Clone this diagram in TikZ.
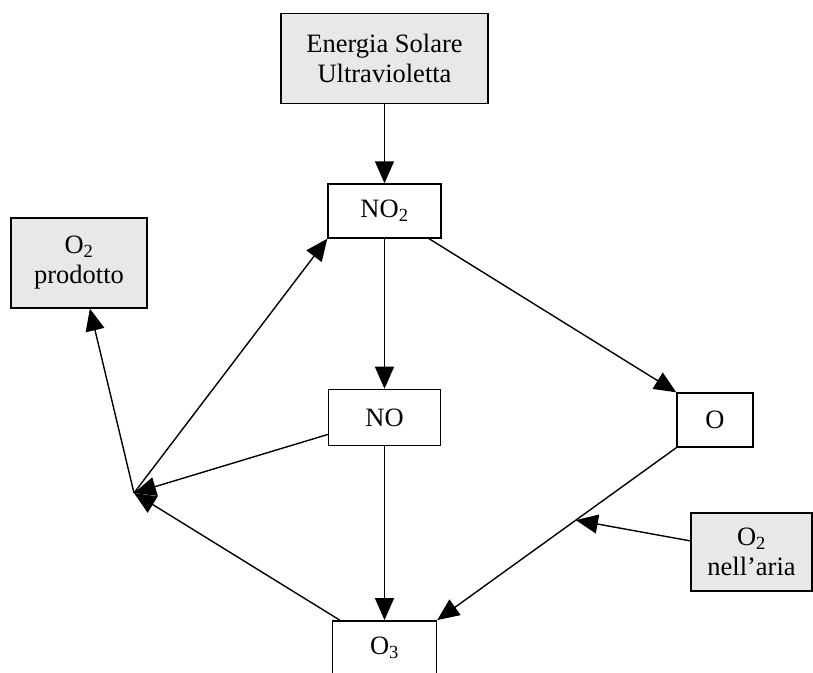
\documentclass[tikz,border=0pt]{standalone}
\usepackage{fontspec}
\setmainfont{Liberation Serif}
\usetikzlibrary{arrows.meta, positioning, calc}

\begin{document}
\begin{tikzpicture}[x=1pt, y=-1pt, >={Triangle[length=22pt,width=19pt]}, line width=1.4pt,
  box/.style={draw, inner sep=0pt, align=center, minimum height=54pt,
    font=\fontsize{26.5}{30}\selectfont},
  shaded/.style={box, fill=black!9}]

\useasboundingbox (0,0) rectangle (813,672);

% define the boxes
  \node[box, minimum width=113pt]    (no2) at (384.5,211)
{NO\textsubscript{2}};
  \node[shaded, minimum width=207pt, minimum height=90pt]   (sole)   [above=79pt of no2]
{Energia Solare\\Ultravioletta};
  \node[box, minimum width=112pt, minimum height=56pt]    (no)  [below=150pt of no2]
{NO};
  \node[box, minimum width=104pt]    (o3)  [below=174pt of no]
{O\textsubscript{3}};
  \node[box, minimum width=76pt]    (o)  at (715,420)
{O};
  \node[shaded, minimum width=121pt, minimum height=78pt]    (aria)  at (751.5,552)
{O\textsubscript{2}\\nell’aria};
  \node[shaded, minimum width=136pt, minimum height=90pt]    (prod)  at (79,263)
{O\textsubscript{2}\\prodotto};

% meeting points of the links
  \coordinate (junct) at (134,493);
  \coordinate (hit) at ($(o.south west)!0.42!(o3.north east)$);

% define the links
  \path[->] (sole) edge (no2)
        (no2) edge (no)
             edge (o.north west)
        (no) edge (o3)
             edge (junct)
        (o.south west) edge (o3.north east)
        (aria) edge (hit)
        (o3) edge (junct)
        (junct) edge (no2.south west)
             edge (prod);

\end{tikzpicture}
\end{document}
